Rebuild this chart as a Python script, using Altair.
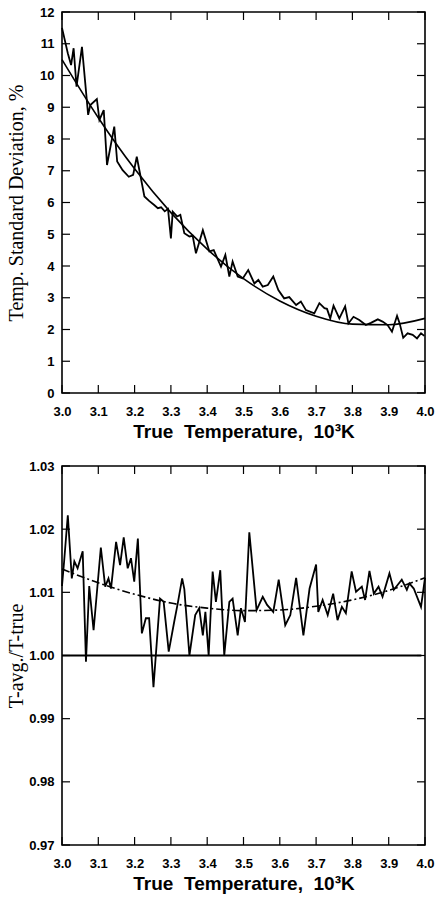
import altair as alt
import pandas as pd

# ---------------- data ----------------
top_t = [3.000, 3.016, 3.025, 3.032, 3.040, 3.055, 3.072, 3.078, 3.096, 3.103,
         3.115, 3.124, 3.144, 3.152, 3.167, 3.184, 3.196, 3.206, 3.227, 3.240,
         3.254, 3.264, 3.273, 3.283, 3.292, 3.300, 3.305, 3.317, 3.326, 3.337,
         3.351, 3.360, 3.369, 3.388, 3.406, 3.418, 3.438, 3.450, 3.461, 3.470,
         3.484, 3.498, 3.513, 3.530, 3.541, 3.553, 3.567, 3.582, 3.596, 3.612,
         3.626, 3.645, 3.658, 3.672, 3.695, 3.709, 3.723, 3.730, 3.739, 3.748,
         3.764, 3.780, 3.789, 3.803, 3.819, 3.837, 3.851, 3.870, 3.883, 3.897,
         3.909, 3.923, 3.930, 3.940, 3.952, 3.966, 3.978, 3.989, 3.998]
top_v = [11.50, 10.70, 10.33, 10.86, 9.65, 10.90, 8.76, 9.07, 9.26, 8.60,
         8.91, 7.18, 8.39, 7.29, 7.02, 6.81, 6.87, 7.44, 6.19, 6.05,
         5.92, 5.82, 5.85, 5.72, 5.80, 4.87, 5.71, 5.56, 5.61, 5.03,
         4.93, 4.95, 4.40, 5.13, 4.46, 4.50, 3.98, 4.35, 3.67, 4.14,
         3.67, 3.61, 3.87, 3.45, 3.56, 3.35, 3.40, 3.67, 3.24, 2.98,
         3.02, 2.77, 2.88, 2.61, 2.51, 2.83, 2.67, 2.65, 2.35, 2.75,
         2.35, 2.73, 2.19, 2.40, 2.30, 2.14, 2.21, 2.32, 2.25, 2.14,
         1.93, 2.43, 2.20, 1.74, 1.88, 1.83, 1.72, 1.88, 1.80]

top_fit_t = [3.0, 3.1, 3.2, 3.3, 3.4, 3.5, 3.6, 3.7, 3.8, 3.9, 4.0]
top_fit_v = [10.50, 8.67, 7.06, 5.68, 4.53, 3.60, 2.90, 2.42, 2.17, 2.15, 2.35]

bot_t = [3.000, 3.006, 3.016, 3.027, 3.034, 3.043, 3.057, 3.066, 3.075, 3.087,
         3.107, 3.119, 3.128, 3.135, 3.149, 3.160, 3.170, 3.181, 3.190, 3.199,
         3.209, 3.220, 3.231, 3.240, 3.252, 3.270, 3.280, 3.294, 3.309, 3.319,
         3.331, 3.337, 3.351, 3.367, 3.378, 3.388, 3.395, 3.404, 3.415, 3.424,
         3.436, 3.447, 3.461, 3.470, 3.484, 3.493, 3.504, 3.516, 3.536, 3.553,
         3.565, 3.582, 3.597, 3.615, 3.629, 3.645, 3.665, 3.682, 3.700, 3.706,
         3.718, 3.732, 3.747, 3.759, 3.771, 3.782, 3.798, 3.810, 3.826, 3.835,
         3.847, 3.859, 3.872, 3.883, 3.902, 3.914, 3.925, 3.936, 3.950, 3.957,
         3.969, 3.989, 4.000]
bot_v = [1.0110, 1.0150, 1.0222, 1.0122, 1.0149, 1.0138, 1.0165, 0.9990, 1.0110, 1.0040,
         1.0171, 1.0109, 1.0122, 1.0106, 1.0180, 1.0143, 1.0187, 1.0138, 1.0154, 1.0117,
         1.0185, 1.0035, 1.0059, 1.0059, 0.9950, 1.0090, 1.0085, 1.0006, 1.0053, 1.0083,
         1.0122, 1.0105, 1.0000, 1.0064, 1.0075, 1.0032, 1.0069, 1.0000, 1.0133, 1.0085,
         1.0135, 1.0000, 1.0085, 1.0090, 1.0032, 1.0075, 1.0053, 1.0195, 1.0072, 1.0093,
         1.0080, 1.0069, 1.0120, 1.0048, 1.0064, 1.0123, 1.0032, 1.0106, 1.0144, 1.0069,
         1.0088, 1.0064, 1.0098, 1.0056, 1.0077, 1.0067, 1.0133, 1.0101, 1.0109, 1.0088,
         1.0134, 1.0098, 1.0109, 1.0093, 1.0130, 1.0104, 1.0112, 1.0120, 1.0104, 1.0114,
         1.0106, 1.0077, 1.0123]

bot_fit_t = [3.0, 3.1, 3.2, 3.3, 3.4, 3.5, 3.6, 3.7, 3.8, 3.9, 4.0]
bot_fit_v = [1.0137, 1.0115, 1.0097, 1.0083, 1.0075, 1.0071, 1.0072, 1.0078, 1.0088, 1.0103, 1.0123]

ref_t = [3.0, 3.99]
ref_v = [1.0, 1.0]

x_ticks = [3.0, 3.1, 3.2, 3.3, 3.4, 3.5, 3.6, 3.7, 3.8, 3.9, 4.0]
top_y_ticks = [0, 1, 2, 3, 4, 5, 6, 7, 8, 9, 10, 11, 12]
bot_y_ticks = [0.97, 0.98, 0.99, 1.00, 1.01, 1.02, 1.03]

NB = "\u00a0"
x_title = f"True{NB}{NB}Temperature,{NB}{NB}10³K"
top_y_title = "Temp. Standard Deviation, %"
bot_y_title = "T-avg./T-true"

# ---------------- layout / style ----------------
W = 363
H1 = 381
H2 = 379
TICK = 8
SANS = "Liberation Sans"
SERIF = "Liberation Serif"


def x_enc():
    return alt.X(
        "t:Q",
        scale=alt.Scale(domain=[3.0, 4.0], nice=False, zero=False),
        axis=alt.Axis(
            values=x_ticks, format=".1f", ticks=False, domain=False, grid=False,
            labelFont=SANS, labelFontWeight="bold", labelFontSize=13, labelColor="black",
            labelPadding=12, labelFlush=False,
            title=x_title, titleFont=SANS, titleFontWeight="bold", titleFontSize=19,
            titleColor="black", titlePadding=4,
        ),
    )


def y_enc(domain, ticks, fmt, title):
    return alt.Y(
        "v:Q",
        scale=alt.Scale(domain=domain, nice=False, zero=False),
        axis=alt.Axis(
            values=ticks, format=fmt, ticks=False, domain=False, grid=False,
            labelFont=SANS, labelFontWeight="bold", labelFontSize=13, labelColor="black",
            labelPadding=8, labelFlush=False,
            title=title, titleFont=SERIF, titleFontWeight="normal", titleFontSize=20,
            titleColor="black", titleX=-36,
        ),
    )


def panel(series_t, series_v, fit_t, fit_v, domain, yticks, fmt, title, H, fit_dash, extra=None):
    X = x_enc()
    Y = y_enc(domain, yticks, fmt, title)
    d_series = pd.DataFrame({"t": series_t, "v": series_v})
    d_fit = pd.DataFrame({"t": fit_t, "v": fit_v})
    d_xt = pd.DataFrame({"t": x_ticks})
    d_yt = pd.DataFrame({"v": yticks})

    series = alt.Chart(d_series).mark_line(color="black", strokeWidth=1.8).encode(x=X, y=Y)
    fit_kw = dict(color="black", strokeWidth=1.6, interpolate="monotone")
    if fit_dash:
        fit_kw["strokeDash"] = fit_dash
    fit = alt.Chart(d_fit).mark_line(**fit_kw).encode(x=X, y=Y)

    xt_bot = alt.Chart(d_xt).mark_rule(color="black", strokeWidth=1.2).encode(
        x=X, y=alt.value(H), y2=alt.value(H - TICK))
    xt_top = alt.Chart(d_xt).mark_rule(color="black", strokeWidth=1.2).encode(
        x=X, y=alt.value(0), y2=alt.value(TICK))
    yt_left = alt.Chart(d_yt).mark_rule(color="black", strokeWidth=1.2).encode(
        y=Y, x=alt.value(0), x2=alt.value(TICK))
    yt_right = alt.Chart(d_yt).mark_rule(color="black", strokeWidth=1.2).encode(
        y=Y, x=alt.value(W - TICK), x2=alt.value(W))

    layers = [xt_bot, xt_top, yt_left, yt_right]
    if extra is not None:
        d_ref = pd.DataFrame({"t": extra[0], "v": extra[1]})
        layers.append(alt.Chart(d_ref).mark_line(color="black", strokeWidth=1.8).encode(x=X, y=Y))
    layers += [fit, series]
    return alt.layer(*layers).properties(width=W, height=H)


top = panel(top_t, top_v, top_fit_t, top_fit_v, [0, 12], top_y_ticks, "d",
            top_y_title, H1, None)
bottom = panel(bot_t, bot_v, bot_fit_t, bot_fit_v, [0.97, 1.03], bot_y_ticks, ".2f",
               bot_y_title, H2, [8, 3, 2, 3], extra=(ref_t, ref_v))

chart = alt.vconcat(top, bottom, spacing=17).properties(
    padding={"left": 5, "top": 5, "right": 0, "bottom": 0},
    background="white",
).configure_view(
    stroke="black", strokeWidth=1.6
)

chart.save("out.html", embed_options={"renderer": "svg", "actions": False})
